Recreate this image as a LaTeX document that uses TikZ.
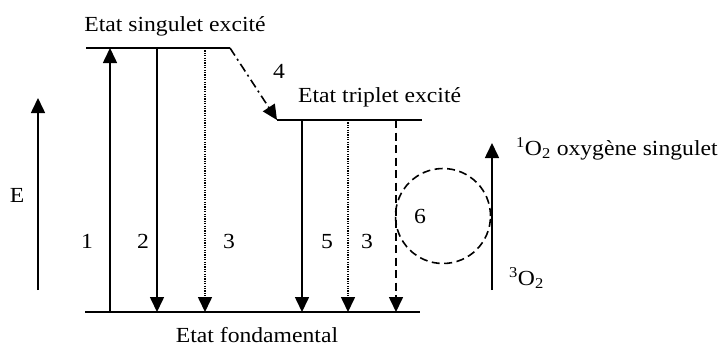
\documentclass[tikz,border=0pt]{standalone}
\usepackage{fontspec}
\setmainfont[FakeStretch=1.1]{Liberation Serif}
\usetikzlibrary{arrows.meta}
\begin{document}
\begin{tikzpicture}[x=1pt,y=-1pt,
  lvl/.style={line width=1.8pt},
  tr/.style={line width=1.6pt,-{Triangle[length=15pt,width=14pt]}},
  dotl/.style={dash pattern=on 1.2pt off 1.2pt},
  dashl/.style={dash pattern=on 8pt off 4.5pt},
  dashdotl/.style={dash pattern=on 9pt off 4pt on 2pt off 4pt},
  lbl/.style={font=\fontsize{21.5}{25}\selectfont, inner sep=0pt, anchor=base}]
\useasboundingbox (0,0) rectangle (719,346);
% levels
\coordinate (S0) at (86,48); \coordinate (S1) at (230,48);
\coordinate (T0) at (277,120); \coordinate (T1) at (422,120);
\coordinate (G0) at (85,312); \coordinate (G1) at (420,312);
\draw[lvl] (S0) -- (S1);
\draw[lvl] (T0) -- (T1);
\draw[lvl] (G0) -- (G1);
% transitions
\coordinate (a1b) at (110,312); \coordinate (a1t) at (110,48);
\coordinate (a2t) at (157,48); \coordinate (a2b) at (157,312);
\coordinate (a3t) at (205,48); \coordinate (a3b) at (205,312);
\coordinate (a5t) at (302,120); \coordinate (a5b) at (302,312);
\coordinate (b3t) at (348,120); \coordinate (b3b) at (348,312);
\coordinate (a6t) at (396,120); \coordinate (a6b) at (396,312);
\draw[tr] (a1b) -- (a1t);
\draw[tr] (a2t) -- (a2b);
\draw[tr,dotl] (a3t) -- (a3b);
\draw[tr] (a5t) -- (a5b);
\draw[tr,dotl] (b3t) -- (b3b);
\draw[tr,dashl] (a6t) -- (a6b);
\draw[tr,dashdotl] (S1) -- (T0);
% energy axis
\coordinate (Eb) at (38,290); \coordinate (Et) at (38,98);
\draw[tr] (Eb) -- (Et);
\node[lbl] (E) at (17,202) {E};
% oxygen
\coordinate (Ob) at (492,290); \coordinate (Ot) at (492,143);
\draw[tr] (Ob) -- (Ot);
\node[draw,circle,dashl,line width=1.6pt,minimum size=95pt,inner sep=0pt] (c6) at (443,216) {};
% labels
\node[lbl] (l1) at (87,248) {1};
\node[lbl] (l2) at (143,248) {2};
\node[lbl] (l3) at (229,248) {3};
\node[lbl] (l5) at (327,248) {5};
\node[lbl] (l3b) at (367,248) {3};
\node[lbl] (l6) at (420,223) {6};
\node[lbl] (l4) at (279,78) {4};
\node[lbl] (ts) at (175,31) {Etat singulet excité};
\node[lbl,anchor=base west] (tt) at (298,102) {Etat triplet excité};
\node[lbl] (tf) at (257,342) {Etat fondamental};
\node[lbl,anchor=base west] (o1) at (516,155) {\textsuperscript{1}O\textsubscript{2} oxygène singulet};
\node[lbl,anchor=base west] (o3) at (509,285) {\textsuperscript{3}O\textsubscript{2}};
\end{tikzpicture}
\end{document}
